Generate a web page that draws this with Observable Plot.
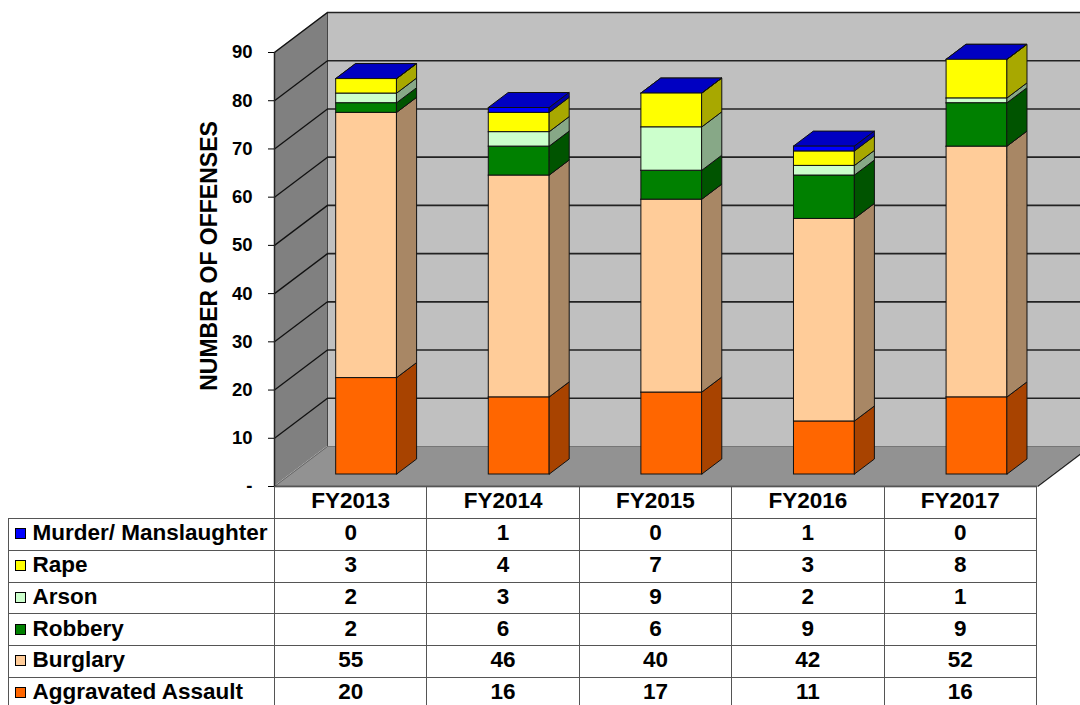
<!DOCTYPE html>
<html>
<head>
<meta charset="utf-8">
<script src="https://cdn.jsdelivr.net/npm/d3@7"></script>
<script src="https://cdn.jsdelivr.net/npm/@observablehq/plot@0.6"></script>
<style>
  body { margin: 0; background: #fff; font-family: Arial, "Liberation Sans", sans-serif; }
  #wrap { position: relative; width: 1080px; height: 705px; overflow: hidden; background: #fff; }
  #chart { position: absolute; left: 0; top: 0; }
  #tbl { position: absolute; left: 7.5px; top: 486px; border-collapse: collapse; table-layout: fixed;
         font-weight: bold; font-size: 22.5px; color: #000; }
  #tbl td { border: 1px solid #555; padding: 0 0 2px 0; text-align: center; vertical-align: middle; white-space: nowrap; overflow: hidden; line-height: 1; box-sizing: border-box; }
  #tbl tr.hdr td { height: 32px; }
  #tbl tr.body td { height: 31.8px; }
  #tbl td.blank { border-top: none; border-left: none; }
  #tbl td.lab { text-align: left; }
  .key { display: inline-block; width: 9px; height: 9px; border: 1px solid #000; margin: 0 7px 0 6px; vertical-align: 1px; }
</style>
</head>
<body>
<div id="wrap">
  <div id="chart"></div>
</div>
<script>
// ---------- data ----------
const years = ["FY2013", "FY2014", "FY2015", "FY2016", "FY2017"];
// stack order, bottom to top
const seriesNames = ["Aggravated Assault", "Burglary", "Robbery", "Arson", "Rape", "Murder/ Manslaughter"];
const aggravatedAssault = [20, 16, 17, 11, 16];
const burglary = [55, 46, 40, 42, 52];
const robbery = [2, 6, 6, 9, 9];
const arson = [2, 3, 9, 2, 1];
const rape = [3, 4, 7, 3, 8];
const murder = [0, 1, 0, 1, 0];
const seriesColors = ["#ff6600", "#ffcc99", "#008000", "#ccffcc", "#ffff00", "#0000ff"];
const yTicks = [0, 10, 20, 30, 40, 50, 60, 70, 80, 90];
const yLabel = "NUMBER OF OFFENSES";

const seriesValues = [aggravatedAssault, burglary, robbery, arson, rape, murder];

// ---------- layout ----------
const W = 1080, H = 488, mL = 274, mR = 43, mT = 52, mB = 2;
const xDomain = [-0.5, years.length - 0.5];
const yDomain = [0, 90];
const pxPerX = (W - mL - mR) / (xDomain[1] - xDomain[0]);
const pxPerY = (H - mT - mB) / (yDomain[1] - yDomain[0]);
// depth of the 3D box, in pixels, converted to data units
const DX = 53 / pxPerX, DY = 40 / pxPerY;
const dF = 0.3, dB = 0.675; // bar front / back depth fractions
const bw = 0.4;              // bar width in category units

function shade(c, k) {
  const r = d3.rgb(c);
  return d3.rgb(r.r * k, r.g * k, r.b * k).formatHex();
}

// ---------- stacked faces ----------
const fronts = [], sides = [], tops = [];
years.forEach((yr, i) => {
  let base = 0;
  seriesValues.forEach((vals, s) => {
    const top = base + vals[i];
    const id = yr + "-" + s;
    const c = seriesColors[s];
    const xl = i - bw / 2, xr = i + bw / 2;
    fronts.push({x1: xl + dF * DX, x2: xr + dF * DX, y1: base + dF * DY, y2: top + dF * DY, fill: c});
    sides.push({z: id, x: xr + dF * DX, lo: base + dF * DY, hi: top + dF * DY, fill: shade(c, 0.66)});
    sides.push({z: id, x: xr + dB * DX, lo: base + dB * DY, hi: top + dB * DY, fill: shade(c, 0.66)});
    tops.push({z: id, y: top + dF * DY, l: xl + dF * DX, r: xr + dF * DX, fill: shade(c, 0.76)});
    tops.push({z: id, y: top + dB * DY, l: xl + dB * DX, r: xr + dB * DX, fill: shade(c, 0.76)});
    base = top;
  });
});

const gridVals = yTicks.filter(v => v > 0);
const x0 = xDomain[0], x1 = xDomain[1];

const plot = Plot.plot({
  width: W, height: H,
  marginLeft: mL, marginRight: mR, marginTop: mT, marginBottom: mB,
  x: {type: "linear", domain: xDomain, axis: null},
  y: {type: "linear", domain: yDomain, axis: null},
  color: {type: "identity"},
  style: {fontFamily: "Arial, 'Liberation Sans', sans-serif", fontWeight: "bold", fontSize: "18.5px", color: "#000", background: "transparent", overflow: "visible"},
  marks: [
    // back wall
    Plot.rect([0], {x1: x0 + DX, x2: x1 + DX + 1, y1: yDomain[0] + DY, y2: yDomain[1] + DY, fill: "#c0c0c0"}),
    // left wall
    Plot.areaY([{x: x0, lo: yDomain[0], hi: yDomain[1]}, {x: x0 + DX, lo: yDomain[0] + DY, hi: yDomain[1] + DY}],
      {x: "x", y1: "lo", y2: "hi", fill: "#808080"}),
    // floor
    Plot.areaX([{y: yDomain[0], l: x0, r: x1}, {y: yDomain[0] + DY, l: x0 + DX, r: x1 + DX}],
      {y: "y", x1: "l", x2: "r", fill: "#929292"}),
    // floor back edge & diagonal
    Plot.ruleY([yDomain[0] + DY], {x1: x0 + DX, x2: x1 + DX, stroke: "#6e6e6e", strokeWidth: 0.8}),
    Plot.link([0], {x1: x0, y1: yDomain[0], x2: x0 + DX, y2: yDomain[0] + DY, stroke: "#5a5a5a", strokeWidth: 0.8}),
    // back wall left edge
    Plot.ruleX([x0 + DX], {y1: yDomain[0] + DY, y2: yDomain[1] + DY, stroke: "#444", strokeWidth: 1}),
    // gridlines on back wall
    Plot.ruleY(gridVals, {y: v => v + DY, x1: x0 + DX, x2: x1 + DX + 1, stroke: "#222", strokeWidth: 1.6}),
    // gridlines on left wall
    Plot.link(gridVals, {x1: x0, y1: v => v, x2: x0 + DX, y2: v => v + DY, stroke: "#111", strokeWidth: 1.3}),
    // box front edges
    Plot.ruleX([x0], {y1: yDomain[0], y2: yDomain[1], stroke: "#222", strokeWidth: 1.5}),
    Plot.ruleY([yDomain[0]], {x1: x0, x2: x1, stroke: "#222", strokeWidth: 1.5}),
    Plot.link([0], {x1: x1, y1: yDomain[0], x2: x1 + DX, y2: yDomain[0] + DY, stroke: "#222", strokeWidth: 1.5}),
    // bars: top faces, then fronts, then sides
    Plot.areaX(tops, {y: "y", x1: "l", x2: "r", z: "z", fill: "fill", stroke: "#111", strokeWidth: 1, curve: "linear"}),
    Plot.rect(fronts, {x1: "x1", x2: "x2", y1: "y1", y2: "y2", fill: "fill", stroke: "#111", strokeWidth: 1}),
    Plot.areaY(sides, {x: "x", y1: "lo", y2: "hi", z: "z", fill: "fill", stroke: "#111", strokeWidth: 1, curve: "linear"}),
    // y axis
    Plot.axisY(yTicks, {anchor: "left", tickSize: 6, tickPadding: 16, tickFormat: d => d === 0 ? "-" : String(d), label: null, fontSize: 18.5, fontWeight: "bold"}),
    // y axis title
    Plot.text([yLabel], {text: d => d, frameAnchor: "left", rotate: -90, dx: -65, dy: -13.5, fontSize: 23, fontWeight: "bold", textAnchor: "middle", lineAnchor: "middle"})
  ]
});
document.getElementById("chart").appendChild(plot);

// ---------- data table ----------
const tableOrder = [5, 4, 3, 2, 1, 0];
let html = '<table id="tbl"><colgroup><col style="width:266.5px">' + years.map(() => '<col style="width:152.4px">').join("") + '</colgroup>';
html += '<tr class="hdr"><td class="blank"></td>' + years.map(y => `<td>${y}</td>`).join("") + '</tr>';
tableOrder.forEach(s => {
  html += `<tr class="body"><td class="lab"><span class="key" style="background:${seriesColors[s]}"></span>${seriesNames[s]}</td>` +
    seriesValues[s].map(v => `<td>${v}</td>`).join("") + '</tr>';
});
html += '</table>';
document.getElementById("wrap").insertAdjacentHTML("beforeend", html);
</script>
</body>
</html>
